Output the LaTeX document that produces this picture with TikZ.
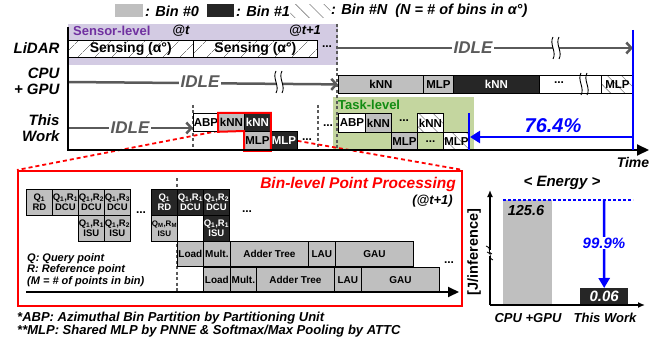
\documentclass[tikz,border=0pt]{standalone}
\usepackage{fontspec}
\setmainfont{Liberation Sans}
\usetikzlibrary{arrows.meta,positioning,patterns.meta}
\definecolor{ink}{HTML}{000000}
\definecolor{binzero}{HTML}{BFBFBF}
\definecolor{binone}{HTML}{262626}
\definecolor{idle}{HTML}{5A5A5A}
\definecolor{sensorbg}{HTML}{D3CBE3}
\definecolor{sensortx}{HTML}{7030A0}
\definecolor{taskbg}{HTML}{C4D69F}
\definecolor{tasktx}{HTML}{128C12}
\definecolor{hiblue}{HTML}{0000FF}
\definecolor{hired}{HTML}{FF0000}

\begin{document}
\begin{tikzpicture}[x=1pt,y=-1pt,
    cell/.style={draw=ink,line width=0.8pt,anchor=north west,inner sep=0pt,
                 align=center,font=\fontsize{11.5}{12}\selectfont\bfseries},
    tiny/.style={cell,font=\fontsize{9.5}{10.5}\selectfont\bfseries,
                 minimum width=26,minimum height=26},
    pipe/.style={cell,font=\fontsize{10}{11}\selectfont\bfseries,minimum height=25},
    bina/.style={fill=binzero},
    binb/.style={fill=binone,text=white},
    binn/.style={preaction={fill=white},
                 pattern={Lines[angle=-45,distance=10pt,line width=0.6pt]},
                 pattern color=black!50},
    slash/.style={preaction={fill=white},
                  pattern={Lines[angle=45,distance=13pt,line width=0.6pt]},
                  pattern color=black!50},
    rowlab/.style={anchor=east,align=right,font=\fontsize{15}{16}\selectfont\bfseries\itshape},
    idletx/.style={fill=white,inner sep=2pt,text=idle,
                   font=\fontsize{17}{17}\selectfont\bfseries\itshape},
    idlearr/.style={draw=idle,line width=2.5pt,-{Straight Barb[length=5pt,width=11pt]}},
    guide/.style={draw=idle,line width=1.5pt,dash pattern=on 3pt off 2.5pt},
    dots/.style={font=\fontsize{12}{12}\selectfont\bfseries,inner sep=0pt},
    bi/.style={font=\fontsize{#1}{#1}\selectfont\bfseries\itshape},
    note/.style={anchor=west,inner sep=0pt,font=\fontsize{13}{13}\selectfont\bfseries\itshape},
    reddash/.style={draw=hired,line width=1.8pt,dash pattern=on 4pt off 3pt},
    brk/.pic={\fill[white] (-3,-5) rectangle (3,5);
              \draw[line width=0.9pt] (-3,-11) .. controls (-7,-4) and (1,4) .. (-3,11)
                                      (3,-11) .. controls (-1,-4) and (7,4) .. (3,11);}]
  \useasboundingbox (0,0) rectangle (662,345);

  % legend
  \node[anchor=north west,minimum width=28,minimum height=13,inner sep=0pt,bina] (lgzero) at (115,4) {};
  \node[anchor=west,inner sep=0pt,bi=14.5] (ltzero) at (145,11) {: Bin \#0};
  \node[anchor=north west,minimum width=27,minimum height=13,inner sep=0pt,binb] (lgone) at (207,4) {};
  \node[anchor=west,inner sep=0pt,bi=14.5] (ltone) at (236,11) {: Bin \#1};
  \node[anchor=north west,minimum width=40,minimum height=13,inner sep=0pt,binn] (lgn) at (290,4) {};
  \node[anchor=west,inner sep=0pt,bi=14.5] (ltn) at (331,11) {: Bin \#N~~(N = \# of bins in α°)};

  % backgrounds
  \fill[sensorbg] (68,24) rectangle (338,65);
  \fill[taskbg] (333,97) rectangle (474,150);
  \node[anchor=west,inner sep=0pt,text=sensortx,font=\fontsize{13}{13}\selectfont\bfseries] (senslv) at (73,31) {Sensor-level};
  \node[inner sep=0pt,bi=13] (at) at (181,31) {@t};
  \node[inner sep=0pt,bi=13] (atnext) at (305,31) {@t+1};
  \node[anchor=west,inner sep=0pt,text=tasktx,font=\fontsize{13}{13}\selectfont\bfseries] (tasklv) at (338,105) {Task-level};

  % guides
  \draw[guide] (337,24) -- (337,150);
  \draw[guide] (193,105) -- (193,150);
  \draw[guide] (318,105) -- (318,150);

  % row labels
  \node[rowlab] (lidar) at (63,48) {LiDAR};
  \node[rowlab] (cpu) at (63,81) {CPU\\+ GPU};
  \node[rowlab] (ours) at (63,128) {This\\Work};

  % LiDAR
  \node[cell,slash,minimum width=125,minimum height=17,font=\fontsize{14}{14}\selectfont\bfseries] (sensa) at (68,40) {Sensing (α°)};
  \node[cell,slash,minimum width=124,minimum height=17,font=\fontsize{14}{14}\selectfont\bfseries] (sensb) at (193,40) {Sensing (α°)};
  \node[dots] (ldots) at (327,47) {...};
  \coordinate (lfree) at (338,48);
  \coordinate (lend) at (633,48);
  \draw[idlearr] (lfree) -- (lend);
  \node[idletx] (lidle) at (473,48) {IDLE};
  \pic at (556,48) {brk};

  % CPU + GPU
  \coordinate (cstart) at (68,82);
  \node[cell,bina,minimum width=85,minimum height=18] (cknna) at (338,75) {kNN};
  \draw[idlearr] (cstart) -- (cknna.west);
  \node[idletx] (cidle) at (200,82) {IDLE};
  \pic at (279,82) {brk};
  \node[cell,bina,minimum width=30,minimum height=18] (cmlpa) at (423,75) {MLP};
  \node[cell,binb,minimum width=86,minimum height=18] (cknnb) at (453,75) {kNN};
  \node[cell,fill=white,minimum width=62,minimum height=18] (cmore) at (539,75) {};
  \node[dots] (cdots) at (559,83) {...};
  \pic at (584,84) {brk};
  \node[cell,binn,minimum width=32,minimum height=18] (cmlpn) at (601,75) {MLP};

  % zoom lines
  \coordinate (zl) at (218,131);
  \coordinate (zr) at (270,136);
  \node[draw=hired,line width=2pt,anchor=north west,minimum width=444,minimum height=135,inner sep=0pt] (binbox) at (17,170) {};
  \draw[reddash] (zl) -- (binbox.north west);
  \draw[reddash] (zr) -- (binbox.north east);

  % This Work
  \coordinate (wstart) at (68,128);
  \node[cell,fill=white,minimum width=25,minimum height=18] (wabp) at (193,113) {ABP};
  \draw[idlearr] (wstart) -- (wabp.west |- wstart);
  \node[idletx] (widle) at (130,128) {IDLE};
  \node[cell,bina,minimum width=26,minimum height=18] (wknna) at (218,113) {kNN};
  \node[cell,binb,minimum width=26,minimum height=18] (wknnb) at (244,113) {kNN};
  \node[cell,bina,minimum width=26,minimum height=19] (wmlpa) at (244,131) {MLP};
  \node[cell,binb,minimum width=27,minimum height=19] (wmlpb) at (270,131) {MLP};
  \node[dots] (wdotsa) at (307,140) {...};
  \node[dots] (wdotsb) at (328,126) {...};
  \draw[hired,line width=2pt] (wknna.north west) -- (wknnb.north east) -- (wmlpa.south east)
    -- (wmlpa.south west) -- (wmlpa.north west) -- (wknna.south west) -- cycle;

  % Task-level
  \node[cell,fill=white,minimum width=27,minimum height=19] (tabp) at (338,113) {ABP};
  \node[cell,bina,minimum width=26,minimum height=19] (tknna) at (365,113) {kNN};
  \node[dots] (tdots) at (404,121) {...};
  \node[cell,binn,minimum width=26,minimum height=19] (tknnn) at (417,113) {kNN};
  \node[cell,bina,minimum width=26,minimum height=18] (tmlpa) at (391,132) {MLP};
  \node[cell,minimum width=26,minimum height=18] (tmore) at (417,132) {...};
  \node[cell,binn,minimum width=26,minimum height=18] (tmlpn) at (443,132) {MLP};

  % time axis
  \coordinate (ttop) at (68,27);
  \coordinate (torig) at (68,150);
  \coordinate (tend) at (649,150);
  \draw[line width=2pt,-{Triangle[length=12pt,width=11pt]}] (ttop) -- (torig) -- (tend);
  \node[bi=14] (time) at (633,162) {Time};

  % speedup
  \coordinate (ctop) at (633,30);
  \coordinate (cbot) at (633,150);
  \coordinate (otop) at (469,113);
  \coordinate (obot) at (469,150);
  \draw[hiblue,line width=2pt] (ctop) -- (cbot);
  \draw[hiblue,line width=2pt] (otop) -- (obot);
  \draw[hiblue,line width=2.5pt,-{Triangle[length=10pt,width=12pt]}] (633,137) -- (470,137);
  \node[text=hiblue,bi=20] (gain) at (553,126) {76.4\%};

  % bin-level point processing
  \node[anchor=east,inner sep=0pt,text=hired,bi=15.5] (bptitle) at (456,184) {Bin-level Point Processing};
  \node[anchor=east,inner sep=0pt,bi=13] (bpat) at (453,201) {(@t+1)};
  \draw[guide] (177,178) -- (177,292);

  \node[tiny,bina] (qa) at (26,189) {Q\textsubscript{1}\\RD};
  \node[tiny,bina] (da) at (52,189) {Q\textsubscript{1},R\textsubscript{1}\\DCU};
  \node[tiny,bina] (db) at (78,189) {Q\textsubscript{1},R\textsubscript{2}\\DCU};
  \node[tiny,bina] (dc) at (104,189) {Q\textsubscript{1},R\textsubscript{3}\\DCU};
  \node[tiny,bina] (ia) at (78,215) {Q\textsubscript{1},R\textsubscript{1}\\ISU};
  \node[tiny,bina] (ib) at (104,215) {Q\textsubscript{1},R\textsubscript{2}\\ISU};
  \node[dots] (gdotsa) at (141,213) {...};
  \node[tiny,binb] (qb) at (151,189) {Q\textsubscript{1}\\RD};
  \node[tiny,binb] (dd) at (177,189) {Q\textsubscript{1},R\textsubscript{1}\\DCU};
  \node[tiny,binb] (de) at (203,189) {Q\textsubscript{1},R\textsubscript{2}\\DCU};
  \node[tiny,bina,font=\fontsize{8}{10}\selectfont\bfseries] (im) at (151,215) {Q\textsubscript{M},R\textsubscript{M}\\ISU};
  \node[tiny,binb] (ic) at (203,215) {Q\textsubscript{1},R\textsubscript{1}\\ISU};
  \node[dots] (gdotsb) at (247,212) {...};

  \node[pipe,bina,minimum width=26] (lda) at (177,241) {Load};
  \node[pipe,bina,minimum width=27] (mua) at (203,241) {Mult.};
  \node[pipe,bina,minimum width=78] (ada) at (230,241) {Adder Tree};
  \node[pipe,bina,minimum width=27] (laa) at (308,241) {LAU};
  \node[pipe,bina,minimum width=78] (gaa) at (335,241) {GAU};
  \node[pipe,bina,minimum width=27] (ldb) at (203,267) {Load};
  \node[pipe,bina,minimum width=26] (mub) at (230,267) {Mult.};
  \node[pipe,bina,minimum width=78] (adb) at (256,267) {Adder Tree};
  \node[pipe,bina,minimum width=27] (lab) at (334,267) {LAU};
  \node[pipe,bina,minimum width=78] (gab) at (361,267) {GAU};
  \node[dots] (pdots) at (449,263) {...};
  \coordinate (porig) at (26,292);
  \coordinate (pend) at (459,292);
  \draw[line width=2pt,-{Triangle[length=11pt,width=10pt]}] (porig) -- (pend);

  \node[anchor=west,inner sep=0pt,align=left,font=\fontsize{11}{11.5}\selectfont\bfseries\itshape] (qrkey) at (27,270)
    {Q: Query point\\R: Reference point\\(M = \# of points in bin)};

  % footnotes
  \node[note] (fabp) at (17,318) {*ABP: Azimuthal Bin Partition by Partitioning Unit};
  \node[note] (fmlp) at (17,331) {**MLP: Shared MLP by PNNE \& Softmax/Max Pooling by ATTC};

  % energy
  \node[bi=15] (etitle) at (562,183) {< Energy >};
  \node[anchor=north west,inner sep=0pt,minimum width=49,minimum height=105,bina] (cpubar) at (503,200) {};
  \node[bi=14.5] (ecpu) at (526,211) {125.6};
  \node[anchor=north west,inner sep=0pt,minimum width=48,minimum height=17,binb,bi=15] (oursbar) at (580,288) {0.06};
  \coordinate (eorig) at (490,305);
  \coordinate (eytop) at (490,190);
  \coordinate (exend) at (645,305);
  \draw[line width=1.5pt,-{Latex[length=7pt,width=6pt]}] (eorig) -- (eytop);
  \draw[line width=1.5pt,-{Latex[length=7pt,width=6pt]}] (eorig) -- (exend);
  \fill[white] (486,250) rectangle (494,256);
  \draw[line width=0.8pt] (486,246) .. controls (493,249) and (486,251) .. (492,254)
                          (487,252) .. controls (494,255) and (487,257) .. (493,260);
  \node[rotate=90,font=\fontsize{14.5}{14.5}\selectfont\bfseries] (eunit) at (474,252) {[J/inference]};
  \coordinate (elevel) at (503,200);
  \coordinate (eright) at (633,200);
  \draw[hiblue,line width=1.5pt,dash pattern=on 3pt off 2pt] (elevel) -- (eright);
  \draw[hiblue,line width=2.5pt,-{Triangle[length=10pt,width=11pt]}] (604,200) -- (oursbar.north);
  \node[fill=white,inner sep=1pt,text=hiblue,bi=15] (esave) at (604,243) {99.9\%};
  \node[bi=13] (ecpulab) at (528,318) {CPU +GPU};
  \node[bi=13] (eourlab) at (605,318) {This Work};
\end{tikzpicture}
\end{document}
